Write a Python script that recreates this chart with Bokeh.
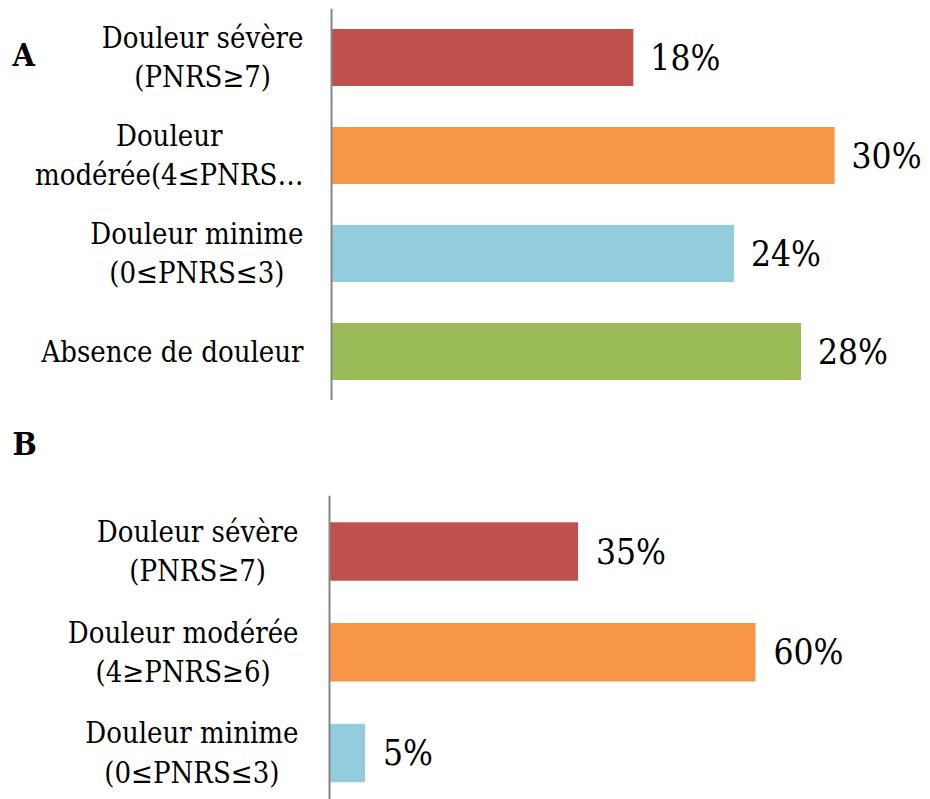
from bokeh.plotting import figure
from bokeh.models import Range1d, Span, Label, ColumnDataSource
from bokeh.layouts import column
from bokeh.embed import file_html
from bokeh.resources import INLINE
from bokeh.core.properties import value

# ---- data ----
cats_a = ["Douleur sévère\n(PNRS≥7)", "Douleur\nmodérée(4≤PNRS…", "Douleur minime\n(0≤PNRS≤3)", "Absence de douleur"]
vals_a = [18, 30, 24, 28]
colors_a = ["#C0504D", "#F79646", "#93CDDD", "#9BBB59"]

cats_b = ["Douleur sévère\n(PNRS≥7)", "Douleur modérée\n(4≥PNRS≥6)", "Douleur minime\n(0≤PNRS≤3)"]
vals_b = [35, 60, 5]
colors_b = ["#C0504D", "#F79646", "#93CDDD"]

FONT = "DejaVu Serif Condensed"
CAT_SIZE = "29px"
VAL_SIZE = "35px"
W = 930


def base(height, xr, yr, top_border=0):
    p = figure(width=W, height=height, output_backend="svg", toolbar_location=None,
               x_range=Range1d(*xr), y_range=Range1d(*yr),
               x_axis_type=None, y_axis_type=None, min_border=0)
    p.min_border_top = top_border
    p.outline_line_color = None
    p.xgrid.visible = False
    p.ygrid.visible = False
    p.background_fill_color = "white"
    p.border_fill_color = "white"
    return p


def panel(cats, vals, colors, height, xr, yr, top_border, lab_off, val_off):
    src = ColumnDataSource(dict(
        pos=list(range(len(cats))), cat=cats, val=vals, col=colors,
        lbl=[f"{v}%" for v in vals],
    ))
    p = base(height, xr, yr, top_border)
    p.hbar(y="pos", left=0, right="val", height=0.58, fill_color="col", line_color=None, source=src)
    p.add_layout(Span(location=0, dimension="height", line_color="#868686", line_width=2))
    p.text(x="val", y="pos", text="lbl", x_offset=val_off, text_baseline="middle", text_align="left",
           text_font=value(FONT), text_font_size=VAL_SIZE, text_color="black", source=src)
    p.text(x=0, y="pos", text="cat", x_offset=lab_off, anchor="center_right", text_align="center",
           text_line_height=1.15, text_font=value(FONT), text_font_size=CAT_SIZE,
           text_color="black", source=src)
    return p


def letter_label(text, y):
    return Label(x=12, y=y, x_units="screen", y_units="screen", text=text,
                 text_font=FONT, text_font_style="bold", text_font_size="32px",
                 text_baseline="middle", text_color="black")


# Panel A
pa = panel(cats_a, vals_a, colors_a, 400, (-19.74, 35.72), (3.5, -0.5), 8, -28, 17)
pa.add_layout(letter_label("A", 392 - 46))

# Header for panel B
hb = base(95, (0, 1), (0, 1))
hb.add_layout(letter_label("B", 95 - 43))

# Panel B
pb = panel(cats_b, vals_b, colors_b, 304, (-46.34, 84.65), (2.4615, -0.556), 0, -31, 18)

layout = column(pa, hb, pb, spacing=0)
open("out.html", "w").write(file_html(layout, INLINE))
